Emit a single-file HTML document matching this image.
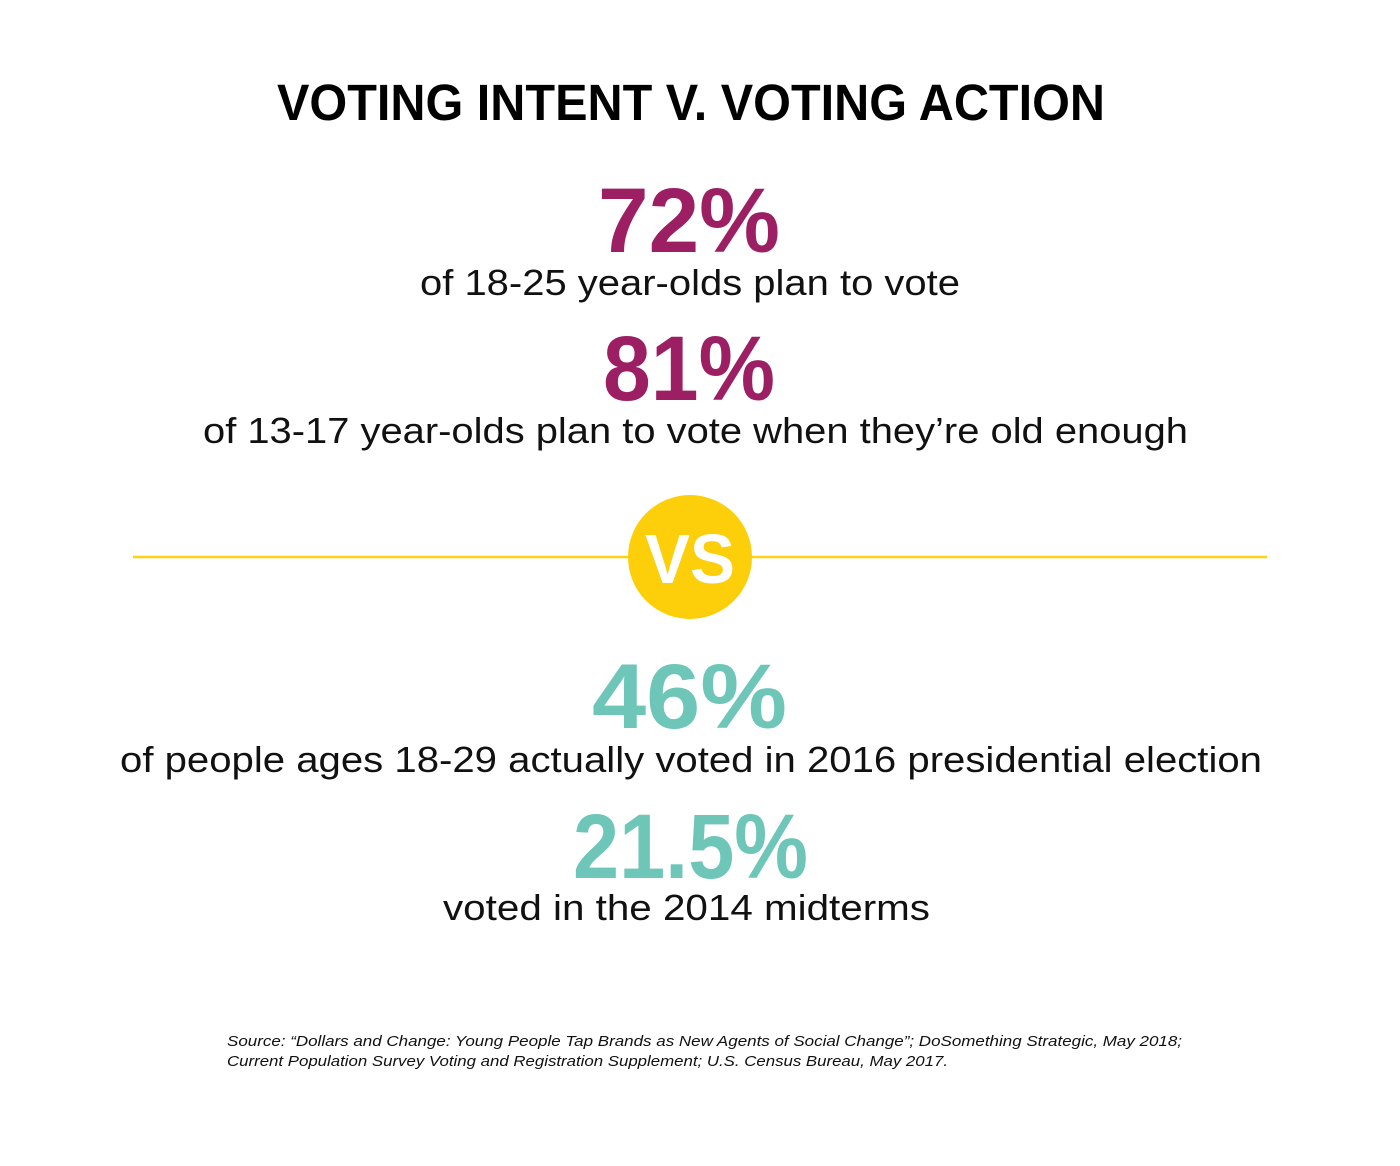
<!DOCTYPE html>
<html>
<head>
<meta charset="utf-8">
<style>
  html, body { margin: 0; padding: 0; background: #ffffff; }
  svg { display: block; }
  text { font-family: "Liberation Sans", "DejaVu Sans", sans-serif; }
</style>
</head>
<body>
<svg width="1400" height="1166" viewBox="0 0 1400 1166" xmlns="http://www.w3.org/2000/svg">
  <rect x="0" y="0" width="1400" height="1166" fill="#ffffff"/>

  <text x="277" y="120" font-size="51" font-weight="bold" fill="#000" textLength="828" lengthAdjust="spacingAndGlyphs">VOTING INTENT V. VOTING ACTION</text>

  <text x="598" y="252" font-size="92" font-weight="bold" fill="#9c1f64" textLength="182" lengthAdjust="spacingAndGlyphs">72%</text>
  <text x="420" y="295" font-size="36" fill="#111" textLength="540" lengthAdjust="spacingAndGlyphs">of 18-25 year-olds plan to vote</text>

  <text x="603" y="400" font-size="92" font-weight="bold" fill="#9c1f64" textLength="172" lengthAdjust="spacingAndGlyphs">81%</text>
  <text x="203" y="443" font-size="36" fill="#111" textLength="985" lengthAdjust="spacingAndGlyphs">of 13-17 year-olds plan to vote when they’re old enough</text>

  <line x1="133" y1="557" x2="1267" y2="557" stroke="#fcd116" stroke-width="2.5"/>
  <circle cx="690" cy="557" r="62" fill="#fdce0a"/>
  <text x="645" y="583" font-size="70" font-weight="bold" fill="#ffffff" textLength="90" lengthAdjust="spacingAndGlyphs">VS</text>

  <text x="592" y="728" font-size="92" font-weight="bold" fill="#6dc6b8" textLength="195" lengthAdjust="spacingAndGlyphs">46%</text>
  <text x="120" y="772" font-size="36" fill="#111" textLength="1142" lengthAdjust="spacingAndGlyphs">of people ages 18-29 actually voted in 2016 presidential election</text>

  <text x="573" y="878" font-size="92" font-weight="bold" fill="#6dc6b8" textLength="235" lengthAdjust="spacingAndGlyphs">21.5%</text>
  <text x="443" y="920" font-size="36" fill="#111" textLength="487" lengthAdjust="spacingAndGlyphs">voted in the 2014 midterms</text>

  <text x="227" y="1046" font-size="15" font-style="italic" fill="#111" textLength="955" lengthAdjust="spacingAndGlyphs">Source: “Dollars and Change: Young People Tap Brands as New Agents of Social Change”; DoSomething Strategic, May 2018;</text>
  <text x="227" y="1066" font-size="15" font-style="italic" fill="#111" textLength="721" lengthAdjust="spacingAndGlyphs">Current Population Survey Voting and Registration Supplement; U.S. Census Bureau, May 2017.</text>
</svg>
</body>
</html>
